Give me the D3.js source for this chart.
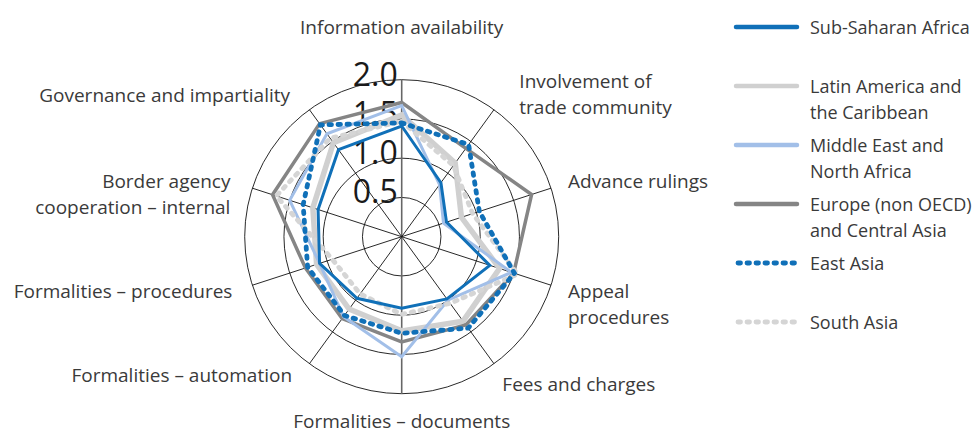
<!DOCTYPE html>
<html>
<head>
<meta charset="utf-8">
<script src="https://cdn.jsdelivr.net/npm/d3@7"></script>
<style>
  body { margin: 0; background: #fff; }
  text { font-family: "Open Sans", sans-serif; fill: #3a3a3a; }
</style>
</head>
<body>
<svg id="chart" width="978" height="433"></svg>
<script>
// axes, clockwise from the top
var categories = [
  ["Information availability"],
  ["Involvement of", "trade community"],
  ["Advance rulings"],
  ["Appeal", "procedures"],
  ["Fees and charges"],
  ["Formalities \u2013 documents"],
  ["Formalities \u2013 automation"],
  ["Formalities \u2013 procedures"],
  ["Border agency", "cooperation \u2013 internal"],
  ["Governance and impartiality"]
];
var ticks = [0.5, 1.0, 1.5, 2.0];

var subSaharan = [1.41, 0.85, 0.60, 1.18, 0.98, 0.91, 0.97, 1.10, 1.12, 1.37];
var latinAmerica = [1.55, 1.16, 0.80, 1.31, 1.33, 1.20, 1.14, 1.14, 1.19, 1.48];
var middleEast = [1.67, 0.82, 0.56, 1.47, 1.00, 1.53, 1.26, 1.10, 1.50, 1.62];
var europe = [1.71, 1.39, 1.74, 1.50, 1.39, 1.34, 1.29, 1.29, 1.73, 1.78];
var eastAsia = [1.45, 1.45, 1.04, 1.51, 1.44, 1.23, 1.24, 1.26, 1.32, 1.76];
var southAsia = [1.47, 1.12, 0.95, 1.55, 1.05, 0.99, 0.90, 0.93, 1.68, 1.55];

var legendNames = [
  ["Sub-Saharan Africa"],
  ["Latin America and", "the Caribbean"],
  ["Middle East and", "North Africa"],
  ["Europe (non OECD)", "and Central Asia"],
  ["East Asia"],
  ["South Asia"]
];

var svg = d3.select("#chart"),
    cx = 401.7,
    cy = 236.7;

var blue = "#1070b8";
var styles = [
  {values: subSaharan, color: blue, width: 3, dash: null},
  {values: latinAmerica, color: "#d0d0d0", width: 5.5, dash: null},
  {values: middleEast, color: "#a2bfe8", width: 3, dash: null},
  {values: europe, color: "#858585", width: 3.5, dash: null},
  {values: eastAsia, color: blue, width: 4.8, dash: "2.5 6.5"},
  {values: southAsia, color: "#d5d5d5", width: 4.8, dash: "2.5 6.5"}
];
// bottom to top
var drawOrder = [1, 3, 2, 5, 0, 4];

var r = d3.scaleLinear().domain([0, 2]).range([0, 157]);
var angle = d3.scaleLinear().domain([0, categories.length]).range([0, 2 * Math.PI]);

var g = svg.append("g").attr("transform", "translate(" + cx + "," + cy + ")");

// rings
g.selectAll("circle.ring")
  .data(ticks)
  .enter().append("circle")
  .attr("class", "ring")
  .attr("r", function(d) { return r(d); })
  .attr("fill", "none")
  .attr("stroke", "#111")
  .attr("stroke-width", 0.9);

// spokes
g.selectAll("line.spoke")
  .data(categories)
  .enter().append("line")
  .attr("class", "spoke")
  .attr("x1", 0).attr("y1", 0)
  .attr("x2", function(d, i) { return r(2) * Math.sin(angle(i)); })
  .attr("y2", function(d, i) { return -r(2) * Math.cos(angle(i)); })
  .attr("stroke", function(d, i) { return i === 0 || i === 5 ? "#666" : "#111"; })
  .attr("stroke-width", function(d, i) { return i === 0 || i === 5 ? 1.6 : 0.9; });

// tick labels
g.selectAll("text.tick")
  .data(ticks)
  .enter().append("text")
  .attr("class", "tick")
  .attr("x", -4)
  .attr("y", function(d) { return -r(d) + 6; })
  .attr("text-anchor", "end")
  .style("font-size", "32px")
  .style("fill", "#1a1a1a")
  .text(function(d) { return d.toFixed(1); });

// series
var line = d3.lineRadial()
  .angle(function(d, i) { return angle(i); })
  .radius(function(d) { return r(d); })
  .curve(d3.curveLinearClosed);

g.selectAll("path.series")
  .data(drawOrder.map(function(k) { return styles[k]; }))
  .enter().append("path")
  .attr("class", "series")
  .attr("d", function(d) { return line(d.values); })
  .attr("fill", "none")
  .attr("stroke", function(d) { return d.color; })
  .attr("stroke-width", function(d) { return d.width; })
  .attr("stroke-linejoin", "miter")
  .attr("stroke-linecap", function(d) { return d.dash ? "round" : "butt"; })
  .attr("stroke-dasharray", function(d) { return d.dash; });

// axis labels
var labelNudge = [[0, 0], [13, -11], [-3, 0], [-3, 0], [-4, 4], [0, 0], [-5, -5], [0, 0], [-2, 0], [-7, 3]];
var labels = g.selectAll("text.axis")
  .data(categories)
  .enter().append("text")
  .attr("class", "axis")
  .style("font-size", "19px")
  .attr("text-anchor", function(d, i) {
    var s = Math.sin(angle(i));
    return Math.abs(s) < 0.1 ? "middle" : (s > 0 ? "start" : "end");
  })
  .attr("transform", function(d, i) {
    var R = i === 0 ? 209 : (i === 5 ? 185 : 178);
    var x = R * Math.sin(angle(i)) + labelNudge[i][0];
    var y = -R * Math.cos(angle(i)) + labelNudge[i][1];
    return "translate(" + x + "," + y + ")";
  });
labels.selectAll("tspan")
  .data(function(d) { return d; })
  .enter().append("tspan")
  .attr("x", 0)
  .attr("dy", function(d, i) { return i === 0 ? "0.35em" : "26px"; })
  .text(function(d) { return d; });

// legend
var legend = svg.append("g").attr("class", "legend");
var rowY = d3.scaleLinear().domain([0, 1]).range([27, 86]);
var items = legend.selectAll("g")
  .data(styles)
  .enter().append("g")
  .attr("transform", function(d, i) { return "translate(736," + rowY(i) + ")"; });
items.append("line")
  .attr("x1", function(d) { return d.dash ? 2 : 0; })
  .attr("x2", 61)
  .attr("y1", 0).attr("y2", 0)
  .attr("stroke", function(d) { return d.color; })
  .attr("stroke-width", function(d) { return d.dash ? d.width : 4.5; })
  .attr("stroke-linecap", "round")
  .attr("stroke-dasharray", function(d) { return d.dash; });
items.append("text")
  .attr("x", 74)
  .attr("y", 1)
  .style("font-size", "18px")
  .selectAll("tspan")
  .data(function(d, i) { return legendNames[i]; })
  .enter().append("tspan")
  .attr("x", 74)
  .attr("dy", function(d, i) { return i === 0 ? "0.35em" : "26px"; })
  .text(function(d) { return d; });
</script>
</body>
</html>
